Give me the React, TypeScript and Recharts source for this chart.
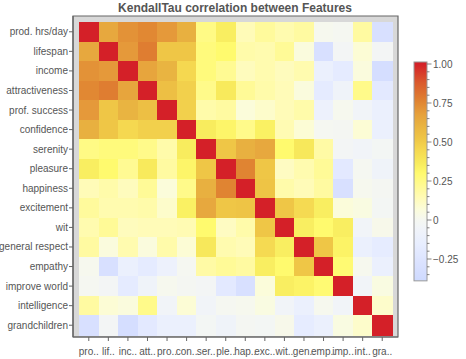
import React from 'react';
import { ScatterChart, Scatter, XAxis, YAxis, CartesianGrid, ReferenceArea } from 'recharts';

const features = [
  'prod. hrs/day', 'lifespan', 'income', 'attractiveness', 'prof. success', 'confidence',
  'serenity', 'pleasure', 'happiness', 'excitement', 'wit', 'general respect',
  'empathy', 'improve world', 'intelligence', 'grandchildren',
];

const rowProdHrs = [1, 0.65, 0.72, 0.75, 0.70, 0.62, 0.25, 0.35, 0.14, 0.20, 0.16, 0.19, 0.01, 0.00, 0.19, -0.30];
const rowLifespan = [0.65, 1, 0.70, 0.78, 0.52, 0.52, 0.27, 0.30, 0.17, 0.16, 0.21, 0.06, -0.30, -0.03, 0.08, -0.03];
const rowIncome = [0.72, 0.70, 1, 0.66, 0.60, 0.45, 0.27, 0.22, 0.13, 0.16, 0.13, 0.16, -0.12, -0.18, 0.06, -0.33];
const rowAttract = [0.75, 0.78, 0.66, 1, 0.55, 0.48, 0.24, 0.37, 0.21, 0.17, 0.14, 0.06, -0.18, -0.07, 0.24, -0.20];
const rowProfSuccess = [0.70, 0.52, 0.60, 0.55, 1, 0.48, 0.17, 0.19, 0.07, 0.10, 0.14, 0.17, -0.10, 0.01, -0.05, -0.12];
const rowConfidence = [0.62, 0.52, 0.45, 0.48, 0.48, 1, 0.36, 0.32, 0.24, 0.34, 0.15, 0.08, 0.00, -0.01, 0.08, -0.12];
const rowSerenity = [0.25, 0.27, 0.27, 0.24, 0.17, 0.36, 1, 0.52, 0.62, 0.65, 0.30, 0.38, 0.18, -0.03, -0.05, -0.02];
const rowPleasure = [0.35, 0.30, 0.22, 0.37, 0.19, 0.32, 0.52, 1, 0.76, 0.52, 0.12, 0.16, 0.21, -0.20, 0.00, -0.07];
const rowHappiness = [0.14, 0.17, 0.13, 0.21, 0.07, 0.24, 0.62, 0.76, 1, 0.53, 0.17, 0.14, 0.19, -0.30, 0.01, -0.01];
const rowExcitement = [0.20, 0.16, 0.16, 0.17, 0.10, 0.34, 0.65, 0.52, 0.53, 1, 0.52, 0.44, 0.35, 0.07, 0.05, -0.02];
const rowWit = [0.16, 0.21, 0.13, 0.14, 0.14, 0.15, 0.30, 0.12, 0.17, 0.52, 1, 0.35, 0.30, 0.35, -0.05, 0.02];
const rowGenRespect = [0.19, 0.06, 0.16, 0.06, 0.17, 0.08, 0.38, 0.16, 0.14, 0.44, 0.35, 1, 0.52, 0.33, -0.12, -0.17];
const rowEmpathy = [0.01, -0.30, -0.12, -0.18, -0.10, 0.00, 0.18, 0.21, 0.19, 0.35, 0.30, 0.52, 1, 0.29, 0.01, -0.12];
const rowImproveWorld = [0.00, -0.03, -0.18, -0.07, 0.01, -0.01, -0.03, -0.20, -0.30, 0.07, 0.35, 0.33, 0.29, 1, -0.05, 0.05];
const rowIntelligence = [0.19, 0.08, 0.06, 0.24, -0.05, 0.08, -0.05, 0.00, 0.01, 0.05, -0.05, -0.12, 0.01, -0.05, 1, 0.10];
const rowGrandchildren = [-0.30, -0.03, -0.33, -0.20, -0.12, -0.12, -0.02, -0.07, -0.01, -0.02, 0.02, -0.17, -0.12, 0.05, 0.10, 1];

const matrix = [
  rowProdHrs, rowLifespan, rowIncome, rowAttract, rowProfSuccess, rowConfidence,
  rowSerenity, rowPleasure, rowHappiness, rowExcitement, rowWit, rowGenRespect,
  rowEmpathy, rowImproveWorld, rowIntelligence, rowGrandchildren,
];

const colorStops: [number, string][] = [
  [-0.39, '#cedaff'],
  [-0.3, '#d8e0ff'],
  [-0.15, '#e8eeff'],
  [-0.05, '#f1f4f8'],
  [0.0, '#f5f7f1'],
  [0.07, '#fbfcda'],
  [0.14, '#fffbb8'],
  [0.2, '#fffa9c'],
  [0.3, '#fffa6e'],
  [0.36, '#f8ec5e'],
  [0.45, '#f5d850'],
  [0.52, '#efc646'],
  [0.62, '#e8b040'],
  [0.68, '#e6a03c'],
  [0.76, '#e08432'],
  [0.88, '#da5a2d'],
  [1.0, '#d42028'],
];

const colorbarMajor = [1, 0.75, 0.5, 0.25, 0, -0.25];
const colorbarLabels = ['1.00', '0.75', '0.50', '0.25', '0', '\u22120.25'];

const W = 466;
const H = 359;
const PLOT_LEFT = 73;
const PLOT_RIGHT = 398;
const PLOT_TOP = 16;
const PLOT_BOTTOM = 337;
const N = features.length;
const CELL = 313 / N;
const X_MIN = -0.5 - 6 / CELL;
const X_MAX = N - 0.5 + 6 / CELL;
const Y_MIN = -0.5 - 6 / CELL;
const Y_MAX = N - 0.5 + 2 / CELL;

function hexToRgb(h: string) {
  return [parseInt(h.slice(1, 3), 16), parseInt(h.slice(3, 5), 16), parseInt(h.slice(5, 7), 16)];
}

function colorFor(v: number) {
  if (v <= colorStops[0][0]) return colorStops[0][1];
  for (let i = 0; i < colorStops.length - 1; i++) {
    const [a, ca] = colorStops[i];
    const [b, cb] = colorStops[i + 1];
    if (v >= a && v <= b) {
      const t = (v - a) / (b - a);
      const A = hexToRgb(ca);
      const B = hexToRgb(cb);
      const c = A.map((x, k) => Math.round(x + (B[k] - x) * t));
      return `rgb(${c[0]},${c[1]},${c[2]})`;
    }
  }
  return colorStops[colorStops.length - 1][1];
}

const cells = matrix.flatMap((row, i) => row.map((v, j) => ({ x: j, y: i, v })));

const FONT = '"Liberation Sans", Arial, Helvetica, sans-serif';
const TEXT = '#555555';
const LINE = '#666666';

const CellShape = (props: any) => {
  const { cx, cy, payload } = props;
  if (cx == null || cy == null) return null;
  return (
    <rect
      x={cx - CELL / 2}
      y={cy - CELL / 2}
      width={CELL + 0.5}
      height={CELL + 0.5}
      fill={colorFor(payload.v)}
      shapeRendering="crispEdges"
    />
  );
};

const XTick = (props: any) => {
  const { x, y, payload } = props;
  const label = features[payload.value].slice(0, 3) + '..';
  return (
    <text x={x} y={y + 12} textAnchor="middle" fontSize={10} fontFamily={FONT} fill={TEXT}>
      {label}
    </text>
  );
};

const YTick = (props: any) => {
  const { x, y, payload } = props;
  return (
    <text x={x} y={y} dy="0.35em" textAnchor="end" fontSize={10} fontFamily={FONT} fill={TEXT}>
      {features[payload.value]}
    </text>
  );
};

const CB_X = 414;
const CB_W = 13;
const CB_ZERO = 220;
const CB_SCALE = 156;
const CB_VMAX = 1.013;
const CB_VMIN = -0.39;
const cbY = (v: number) => CB_ZERO - v * CB_SCALE;

const minorTicks: number[] = [];
for (let k = -7; k <= 20; k++) {
  const v = k * 0.05;
  if (v >= CB_VMIN && v <= CB_VMAX && k % 5 !== 0) minorTicks.push(v);
}

export default function App() {
  const idx = features.map((_, i) => i);
  return (
    <div style={{ position: 'absolute', left: 0, top: 0, width: W, height: H, background: '#fff' }}>
      <ScatterChart
        width={W}
        height={H}
        margin={{ top: PLOT_TOP, right: W - PLOT_RIGHT, bottom: 0, left: 0 }}
      >
        <CartesianGrid fill="#d8d8d8" fillOpacity={1} stroke="none" horizontal={false} vertical={false} />
        <ReferenceArea
          x1={X_MIN}
          x2={X_MAX}
          y1={Y_MIN}
          y2={Y_MAX}
          fill="#d8d8d8"
          fillOpacity={1}
          stroke="none"
          ifOverflow="visible"
        />
        <XAxis
          type="number"
          dataKey="x"
          domain={[X_MIN, X_MAX]}
          allowDataOverflow
          ticks={idx}
          interval={0}
          height={H - PLOT_BOTTOM}
          tickSize={4}
          tickMargin={2}
          tick={<XTick />}
          tickLine={{ stroke: LINE }}
          axisLine={{ stroke: LINE, strokeWidth: 1.2 }}
        />
        <YAxis
          type="number"
          dataKey="y"
          domain={[Y_MIN, Y_MAX]}
          allowDataOverflow
          reversed
          ticks={idx}
          interval={0}
          width={PLOT_LEFT}
          tickSize={4}
          tickMargin={1}
          tick={<YTick />}
          tickLine={{ stroke: LINE }}
          axisLine={{ stroke: LINE, strokeWidth: 1.2 }}
        />
        <Scatter data={cells} shape={<CellShape />} isAnimationActive={false} />
        <ReferenceArea
          x1={X_MIN}
          x2={X_MAX}
          y1={Y_MIN}
          y2={Y_MAX}
          fill="none"
          stroke={LINE}
          strokeWidth={1.2}
          ifOverflow="visible"
        />
      </ScatterChart>
      <svg
        width={W}
        height={H}
        style={{ position: 'absolute', left: 0, top: 0, pointerEvents: 'none' }}
      >
        <defs>
          <linearGradient id="cbGrad" x1="0" y1="0" x2="0" y2="1">
            {colorStops
              .slice()
              .reverse()
              .map(([v, c], k) => (
                <stop
                  key={k}
                  offset={Math.max(0, Math.min(1, (CB_VMAX - v) / (CB_VMAX - CB_VMIN)))}
                  stopColor={c}
                />
              ))}
          </linearGradient>
        </defs>
        <text
          x={235}
          y={12}
          textAnchor="middle"
          fontSize={12}
          fontWeight="bold"
          fontFamily={FONT}
          fill={TEXT}
        >
          KendallTau correlation between Features
        </text>
        <rect
          x={CB_X}
          y={cbY(CB_VMAX)}
          width={CB_W}
          height={cbY(CB_VMIN) - cbY(CB_VMAX)}
          fill="url(#cbGrad)"
          stroke="#9a9a9a"
          strokeWidth={1}
        />
        {minorTicks.map((v, k) => (
          <line key={'m' + k} x1={CB_X + CB_W} x2={CB_X + CB_W + 2.5} y1={cbY(v)} y2={cbY(v)} stroke={LINE} strokeWidth={0.8} />
        ))}
        {colorbarMajor.map((v, k) => (
          <g key={'M' + k}>
            <line x1={CB_X + CB_W} x2={CB_X + CB_W + 4.5} y1={cbY(v)} y2={cbY(v)} stroke={LINE} strokeWidth={0.8} />
            <text x={CB_X + CB_W + 6} y={cbY(v)} dy="0.35em" fontSize={10} fontFamily={FONT} fill={TEXT}>
              {colorbarLabels[k]}
            </text>
          </g>
        ))}
      </svg>
    </div>
  );
}
